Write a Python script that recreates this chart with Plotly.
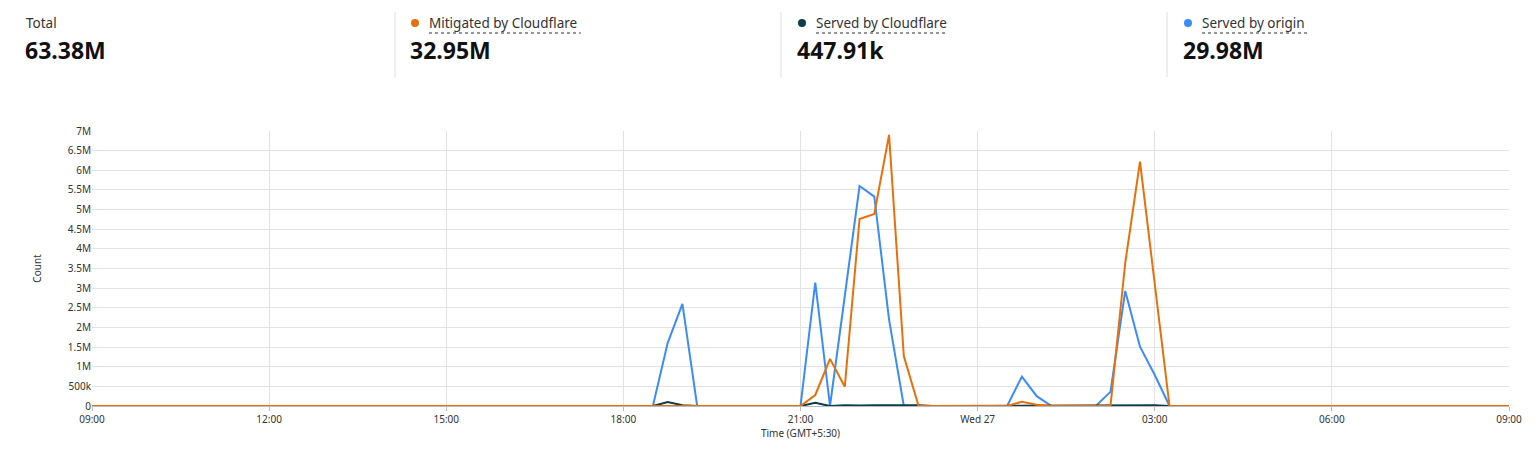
import plotly.graph_objects as go
import pandas as pd

# sparse points (time, value); other times are zero
blue_t = ["2024-03-26 09:00","2024-03-26 18:30","2024-03-26 18:45","2024-03-26 19:00","2024-03-26 19:15",
          "2024-03-26 21:00","2024-03-26 21:15","2024-03-26 21:30","2024-03-26 21:45","2024-03-26 22:00",
          "2024-03-26 22:15","2024-03-26 22:30","2024-03-26 22:45","2024-03-27 00:30","2024-03-27 00:45",
          "2024-03-27 01:00","2024-03-27 01:15","2024-03-27 02:00","2024-03-27 02:15","2024-03-27 02:30",
          "2024-03-27 02:45","2024-03-27 03:00","2024-03-27 03:15","2024-03-27 09:00"]
blue_v = [0,0,1.6e6,2.6e6,0, 0,3.14e6,0,2.8e6,5.6e6, 5.33e6,2.2e6,0,0,0.75e6, 0.25e6,0,0,0.36e6,2.93e6, 1.51e6,0.79e6,0,0]

orange_t = ["2024-03-26 09:00","2024-03-26 21:00","2024-03-26 21:15","2024-03-26 21:30","2024-03-26 21:45",
            "2024-03-26 22:00","2024-03-26 22:15","2024-03-26 22:30","2024-03-26 22:45","2024-03-26 23:00",
            "2024-03-27 00:30","2024-03-27 00:45","2024-03-27 01:00","2024-03-27 01:15","2024-03-27 02:15",
            "2024-03-27 02:30","2024-03-27 02:45","2024-03-27 03:00","2024-03-27 03:15","2024-03-27 09:00"]
orange_v = [0,0,0.28e6,1.2e6,0.49e6, 4.76e6,4.89e6,6.9e6,1.27e6,0, 0,0.11e6,0.03e6,0,0, 3.64e6,6.22e6,3.13e6,0,0]

dark_t = ["2024-03-26 09:00","2024-03-26 18:30","2024-03-26 18:45","2024-03-26 19:00","2024-03-26 19:15",
          "2024-03-26 21:00","2024-03-26 21:15","2024-03-26 21:30","2024-03-26 21:45","2024-03-26 22:00",
          "2024-03-26 22:15","2024-03-26 22:30","2024-03-26 22:45","2024-03-26 23:00","2024-03-26 23:15",
          "2024-03-27 02:15","2024-03-27 02:30","2024-03-27 02:45","2024-03-27 03:00","2024-03-27 03:15",
          "2024-03-27 09:00"]
dark_v = [0,0,0.1e6,0.02e6,0, 0,0.08e6,0,0.02e6,0.01e6, 0.02e6,0.02e6,0.02e6,0.02e6,0, 0.01e6,0.02e6,0.03e6,0.02e6,0, 0]

tick_vals = ["2024-03-26 09:00","2024-03-26 12:00","2024-03-26 15:00","2024-03-26 18:00","2024-03-26 21:00",
             "2024-03-27 00:00","2024-03-27 03:00","2024-03-27 06:00","2024-03-27 09:00"]
tick_text = ["09:00","12:00","15:00","18:00","21:00","Wed 27","03:00","06:00","09:00"]
y_vals = [i*500000 for i in range(15)]
y_text = ["0","500k","1M","1.5M","2M","2.5M","3M","3.5M","4M","4.5M","5M","5.5M","6M","6.5M","7M"]

stat_labels = ["Total","Mitigated by Cloudflare","Served by Cloudflare","Served by origin"]
stat_values = ["63.38M","32.95M","447.91k","29.98M"]
stat_colors = [None,"#E8700A","#0B3D4D","#3C8CF8"]

OFF = 8  # page body margin
L, R, T, B = 92 - OFF, 1509 - OFF, 131 - OFF, 406 - OFF
def px(x): return (x - OFF - L) / (R - L)
def py(y): return (B - (y - OFF)) / (B - T)

fig = go.Figure()
fig.add_trace(go.Scatter(x=pd.to_datetime(blue_t), y=blue_v, mode="lines", line=dict(color="#3C8CF8", width=2)))
fig.add_trace(go.Scatter(x=pd.to_datetime(dark_t), y=dark_v, mode="lines", line=dict(color="#0B3D4D", width=2)))
fig.add_trace(go.Scatter(x=pd.to_datetime(orange_t), y=orange_v, mode="lines", line=dict(color="#E8700A", width=2)))

anns, shapes = [], []
cols = [25, 410, 797, 1183]
for i, (lab, val, c) in enumerate(zip(stat_labels, stat_values, stat_colors)):
    x0 = cols[i]
    tx = x0 - 1 if c is None else x0 + 17
    anns.append(dict(x=px(tx), y=py(23), xref="paper", yref="paper", text=lab, showarrow=False,
                     xanchor="left", yanchor="middle", font=dict(size=13.5, color="#333")))
    anns.append(dict(x=px(x0 - 2), y=py(50), xref="paper", yref="paper", text="<b>" + val + "</b>", showarrow=False,
                     xanchor="left", yanchor="middle", font=dict(size=23, color="#111")))
    if c is not None:
        shapes.append(dict(type="circle", xref="paper", yref="paper", x0=px(x0 + 1), x1=px(x0 + 9),
                           y0=py(19), y1=py(27), fillcolor=c, line=dict(width=0)))
        w = len(lab) * 6.6
        shapes.append(dict(type="line", xref="paper", yref="paper", x0=px(tx + 2), x1=px(tx + 2 + w),
                           y0=py(33), y1=py(33), line=dict(color="#333", width=1.2, dash="dot")))
for sx in [395, 781, 1167]:
    shapes.append(dict(type="line", xref="paper", yref="paper", x0=px(sx), x1=px(sx), y0=py(12), y1=py(77),
                       line=dict(color="#ddd", width=1)))

fig.update_layout(
    width=1538, height=453, margin=dict(l=L, r=1538 - R, t=T, b=453 - B),
    paper_bgcolor="white", plot_bgcolor="white", showlegend=False,
    font=dict(family="Noto Sans, Inter, sans-serif", color="#333"),
    annotations=anns, shapes=shapes,
    xaxis=dict(range=[pd.Timestamp("2024-03-26 09:00"), pd.Timestamp("2024-03-27 09:00")],
               tickvals=pd.to_datetime(tick_vals), ticktext=tick_text, showgrid=True, gridcolor="#e3e3e3",
               tickfont=dict(size=10), title=dict(text="Time (GMT+5:30)", font=dict(size=10), standoff=4),
               showline=True, linecolor="#bbb", ticks="outside", ticklen=4, tickcolor="#bbb", zeroline=False),
    yaxis=dict(range=[0, 7e6], tickvals=y_vals, ticktext=y_text, showgrid=True, gridcolor="#e3e3e3",
               tickfont=dict(size=10), title=dict(text="Count", font=dict(size=10), standoff=24), zeroline=False),
)
fig.write_html("out.html")
